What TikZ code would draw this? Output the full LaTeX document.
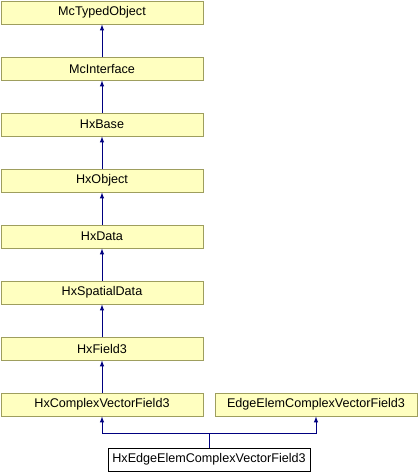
\documentclass[tikz,border=0pt]{standalone}
\usepackage{fontspec}
\setmainfont{Liberation Sans}
\definecolor{boxfill}{RGB}{255,255,192}
\definecolor{boxline}{RGB}{158,158,94}
\definecolor{inhline}{RGB}{0,0,128}
\tikzset{
	classbox/.style={draw=boxline, fill=boxfill, line width=1pt, minimum width=202pt, minimum height=23pt, inner sep=0pt, anchor=north west, font=\fontsize{12.6}{14}\selectfont},
	leafbox/.style={classbox, draw=black, fill=white},
	inh/.style={-latex, draw=inhline, line width=1pt}
}
\begin{document}
\begin{tikzpicture}[x=1pt,y=-1pt]
				\useasboundingbox (0,0) rectangle (418,472);
				
				\node[classbox] (tobj) at (0.5,0.5) {McTypedObject};
				\node[classbox] (iface) at (0.5,56.5) {McInterface};
				\node[classbox] (base) at (0.5,112.5) {HxBase};
				\node[classbox] (obj) at (0.5,168.5) {HxObject};
				\node[classbox] (data) at (0.5,224.5) {HxData};
				\node[classbox] (spatial) at (0.5,280.5) {HxSpatialData};
				\node[classbox] (field) at (0.5,336.5) {HxField3};
				\node[classbox] (cvf) at (0.5,392.5) {HxComplexVectorField3};
				\node[classbox] (eecvf) at (214.5,392.5) {EdgeElemComplexVectorField3};
				
				\node[leafbox] (leaf) at (107.5,447.5) {HxEdgeElemComplexVectorField3};
				
				\foreach \lo/\hi in {iface/tobj,base/iface,obj/base,data/obj,spatial/data,field/spatial,cvf/field}{
					\draw[inh] (\lo.north) -- (\hi.south);
				}
				
				\coordinate (split) at (leaf.north |- 0,433.5);
				\draw[inh] (leaf.north) -- (split) -| (cvf.south);
				\draw[inh] (split) -| (eecvf.south);
			\end{tikzpicture}
\end{document}
